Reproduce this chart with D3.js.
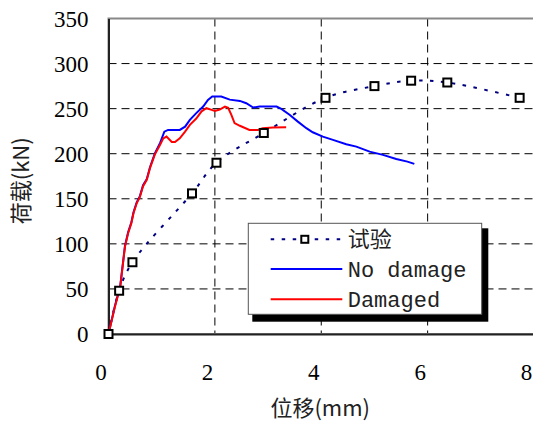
<!DOCTYPE html>
<html>
<head>
<meta charset="utf-8">
<script src="https://cdn.jsdelivr.net/npm/d3@7"></script>
<style>
  body { margin: 0; background: #fff; }
  svg { display: block; }
  .num { font-family: "Liberation Serif", "DejaVu Serif", serif; }
</style>
</head>
<body>
<div id="chart"></div>
<script>
// Test points (displacement mm, load kN)
const testDisp = [0, 0.2, 0.45, 1.57, 2.03, 2.92, 4.08, 5.0, 5.69, 6.37, 7.73];
const testLoad = [0, 48, 79.6, 156, 190, 223, 262, 275, 281, 279, 262];

// FE curve, no damage
const noDmgDisp = [0, 0.12, 0.22, 0.28, 0.31, 0.37, 0.43, 0.47, 0.53, 0.59, 0.65, 0.72, 0.78, 0.87, 0.97, 1.05, 1.12, 1.34, 1.44, 1.53, 1.65, 1.78, 1.87, 1.95, 2.12, 2.28, 2.47, 2.59, 2.72, 2.84, 3.16, 3.25, 3.41, 3.56, 3.72, 3.84, 4.03, 4.22, 4.47, 4.66, 4.91, 5.16, 5.41, 5.62, 5.75];
const noDmgLoad = [0, 31, 53, 83, 98, 113, 124, 135, 146, 153, 165, 172, 185, 200, 212, 224.5, 226.4, 226.4, 230, 237.5, 245, 252.3, 259.7, 263.4, 263.4, 260, 258.6, 256, 251.2, 252.3, 252.3, 249.7, 243, 235.6, 228.3, 223.8, 219, 215.3, 210.5, 207.9, 202.3, 198.7, 194.2, 191.2, 188.7];

// FE curve, damaged
const dmgDisp = [0, 0.12, 0.22, 0.28, 0.31, 0.37, 0.43, 0.47, 0.53, 0.59, 0.65, 0.72, 0.78, 0.87, 0.97, 1.03, 1.09, 1.19, 1.25, 1.34, 1.44, 1.53, 1.65, 1.75, 1.84, 1.94, 2.0, 2.09, 2.19, 2.25, 2.31, 2.37, 2.47, 2.65, 2.81, 2.9, 3.09, 3.34];
const dmgLoad = [0, 30, 52, 82, 97, 112, 123, 134, 145, 152, 164, 171, 184, 199, 210, 217, 219, 213, 213, 217, 224.5, 232, 239, 247, 250.5, 248.6, 247.5, 249, 252.3, 251, 243, 234, 231, 226.4, 226.4, 228.3, 229, 229.4];

const xTicks = [0, 2, 4, 6, 8];
const yTicks = [0, 50, 100, 150, 200, 250, 300, 350];
const legendLabels = ["试验", "No damage", "Damaged"];

const W = 533, H = 423;
const margin = { top: 18.5, right: -1, bottom: 89, left: 108.5 };
const width = W - margin.left - margin.right;
const height = H - margin.top - margin.bottom;

const svg = d3.select("#chart")
  .append("svg")
  .attr("width", W)
  .attr("height", H)
  .append("g")
  .attr("transform", `translate(${margin.left},${margin.top})`);

const x = d3.scaleLinear().domain([0, 8]).range([0, width]);
const y = d3.scaleLinear().domain([0, 350]).range([height, 0]);

const cjkFont = "'Noto Sans CJK SC', sans-serif";

// Grid lines (dashed)
svg.append("g")
  .selectAll("line")
  .data(xTicks.filter(d => d > 0 && d < 8))
  .join("line")
  .attr("x1", d => x(d)).attr("x2", d => x(d))
  .attr("y1", 0).attr("y2", height)
  .attr("stroke", "#000")
  .attr("stroke-width", 1)
  .attr("stroke-dasharray", "8,5");

svg.append("g")
  .selectAll("line")
  .data(yTicks.filter(d => d > 0 && d < 350))
  .join("line")
  .attr("x1", 0).attr("x2", width)
  .attr("y1", d => y(d)).attr("y2", d => y(d))
  .attr("stroke", "#000")
  .attr("stroke-width", 1)
  .attr("stroke-dasharray", "8,5");

// Frame: grey top/right, black axes
svg.append("rect")
  .attr("width", width).attr("height", height)
  .attr("fill", "none")
  .attr("stroke", "#888")
  .attr("stroke-width", 2);

// X-axis
svg.append("g")
  .attr("transform", `translate(0,${height})`)
  .call(d3.axisBottom(x).tickValues(xTicks).tickSize(0).tickPadding(0))
  .attr("font-family", null)
  .call(g => g.select(".domain").attr("stroke", "#222").attr("stroke-width", 2))
  .call(g => g.selectAll(".tick text")
    .attr("class", "num")
    .attr("dx", -8)
    .attr("y", 46)
    .attr("dy", 0)
    .style("font-size", "23px")
    .attr("fill", "#000"))
  .call(g => g.append("text")
    .attr("x", x(4) - 1)
    .attr("y", 82)
    .attr("text-anchor", "middle")
    .style("font-family", cjkFont)
    .style("font-size", "22px")
    .attr("fill", "#222")
    .text("位移(mm)"));

// Y-axis
svg.append("g")
  .call(d3.axisLeft(y).tickValues(yTicks).tickSize(0).tickPadding(20))
  .attr("font-family", null)
  .call(g => g.select(".domain").attr("stroke", "#222").attr("stroke-width", 2))
  .call(g => g.selectAll(".tick text")
    .attr("class", "num")
    .attr("dy", "0.34em")
    .style("font-size", "23px")
    .attr("fill", "#000"))
  .call(g => g.append("text")
    .attr("transform", "rotate(-90)")
    .attr("x", -(y(170)))
    .attr("y", -80)
    .attr("text-anchor", "middle")
    .style("font-family", cjkFont)
    .style("font-size", "22px")
    .attr("fill", "#222")
    .text("荷载(kN)"));

svg.append("clipPath").attr("id", "plot-clip")
  .append("rect").attr("x", -6).attr("y", -6).attr("width", width + 12).attr("height", height + 12);

const plot = svg.append("g").attr("clip-path", "url(#plot-clip)");

// Test curve (dotted, smoothed)
const testPts = testDisp.map((d, i) => [d, testLoad[i]]);
plot.append("path")
  .datum(testPts)
  .attr("fill", "none")
  .attr("stroke", "#000080")
  .attr("stroke-width", 2)
  .attr("stroke-dasharray", "3.5,7.5")
  .attr("d", d3.line().x(d => x(d[0])).y(d => y(d[1])).curve(d3.curveCatmullRom.alpha(0.5)));

// FE curves
const feLine = d3.line().x(d => x(d[0])).y(d => y(d[1]));
plot.append("path")
  .datum(noDmgDisp.map((d, i) => [d, noDmgLoad[i]]))
  .attr("fill", "none")
  .attr("stroke", "#0000ff")
  .attr("stroke-width", 2)
  .attr("d", feLine);

plot.append("path")
  .datum(dmgDisp.map((d, i) => [d, dmgLoad[i]]))
  .attr("fill", "none")
  .attr("stroke", "#ff0000")
  .attr("stroke-width", 2)
  .attr("d", feLine);

// Test markers
plot.selectAll(".marker")
  .data(testPts)
  .join("rect")
  .attr("class", "marker")
  .attr("x", d => x(d[0]) - 4)
  .attr("y", d => y(d[1]) - 4)
  .attr("width", 8).attr("height", 8)
  .attr("fill", "#fff")
  .attr("stroke", "#000")
  .attr("stroke-width", 2);

// Legend
const lg = svg.append("g").attr("transform", `translate(${248.3 - margin.left},${223.3 - margin.top})`);
const lgW = 233.4, lgH = 91;

lg.append("rect")
  .attr("x", 4).attr("y", 5)
  .attr("width", lgW + 2.6).attr("height", lgH + 2.4)
  .attr("fill", "#000");
lg.append("rect")
  .attr("width", lgW).attr("height", lgH)
  .attr("fill", "#fff")
  .attr("stroke", "#555")
  .attr("stroke-width", 1);

const rowY = [16, 45.7, 76];
const styles = [
  { color: "#000080", dash: "3.5,7.5" },
  { color: "#0000ff", dash: null },
  { color: "#ff0000", dash: null }
];

const rows = lg.selectAll(".row")
  .data(legendLabels)
  .join("g")
  .attr("class", "row")
  .attr("transform", (d, i) => `translate(0,${rowY[i]})`);

rows.append("line")
  .attr("x1", 22.4).attr("x2", 94)
  .attr("stroke", (d, i) => styles[i].color)
  .attr("stroke-width", 2)
  .attr("stroke-dasharray", (d, i) => styles[i].dash);

rows.filter((d, i) => i === 0)
  .append("rect")
  .attr("x", 53).attr("y", -3.5)
  .attr("width", 7).attr("height", 7)
  .attr("fill", "#fff")
  .attr("stroke", "#000")
  .attr("stroke-width", 2);

rows.append("text")
  .attr("x", 99.4)
  .attr("dy", "0.36em")
  .style("font-family", (d, i) => i === 0 ? cjkFont : "'Liberation Mono', monospace")
  .style("font-size", "22px")
  .attr("fill", "#222")
  .text(d => d);
</script>
</body>
</html>
